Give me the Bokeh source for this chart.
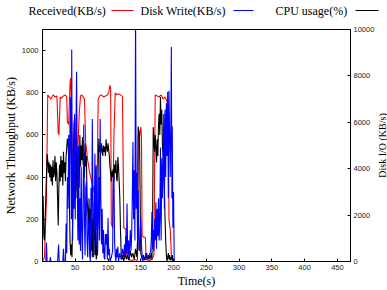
import math
from bokeh.plotting import figure
from bokeh.models import Range1d, LinearAxis, FixedTicker
from bokeh.layouts import column, row
from bokeh.core.properties import value
from bokeh.embed import file_html
from bokeh.resources import INLINE

# ---------------- data ----------------
legend_labels = ["Received(KB/s)", "Disk Write(KB/s)", "CPU usage(%)"]
legend_colors = ["#ff0000", "#0000ff", "#000000"]

x_ticks = [50, 100, 150, 200, 250, 300, 350, 400, 450]
y_ticks = [0, 200, 400, 600, 800, 1000]
disk_ticks = [0, 2000, 4000, 6000, 8000, 10000]

# Received (KB/s), left axis
recv_t = [0, 3, 6, 8, 10, 13, 16, 19, 22, 24, 25, 27, 29, 32, 35, 37, 38, 40, 42, 43,
          45, 47, 50, 53, 56, 58, 60, 62, 64, 66, 69, 72, 75, 78, 81, 83, 85, 87, 90, 93,
          96, 99, 101, 103, 104, 105, 107, 109, 111, 113, 116, 119, 121, 122, 123, 124, 126, 127,
          128, 132, 136, 140, 144, 145, 146, 148, 150, 151, 152, 155, 157, 158, 163, 167, 170,
          172, 175, 178, 181, 184, 187, 190, 192, 193, 195, 197, 200]
recv_v = [0, 20, 300, 790, 780, 770, 790, 780, 785, 610, 600, 780, 775, 785, 790, 780, 660, 650, 850, 870,
          600, 420, 300, 450, 700, 785, 790, 780, 770, 560, 480, 420, 380, 340, 300, 320, 770, 785, 790, 780,
          785, 790, 800, 835, 820, 180, 160, 600, 800, 790, 795, 790, 785, 780, 500, 160, 155, 155,
          20, 10, 5, 10, 5, 10, 600, 590, 637, 590, 120, 115, 115, 10, 5, 10, 30,
          790, 785, 780, 790, 770, 780, 760, 700, 200, 150, 10, 0]

# CPU usage, left axis
cpu_t = [0, 1, 2, 3, 5, 7, 8, 9, 10, 11, 12, 13, 14, 15, 16, 17, 18, 19, 20, 21,
         22, 23, 24, 25, 26, 27, 28, 29, 30, 31, 32, 33, 34, 35, 36, 37, 38, 39, 40, 41,
         42, 43, 44, 45, 46, 47, 48, 49, 50, 51, 52, 53, 54, 55, 56, 57, 58, 59, 60, 61,
         62, 63, 64, 65, 66, 67, 68, 69, 70, 71, 72, 73, 74, 75, 76, 77, 78, 79, 80, 81,
         82, 83, 84, 85, 86, 87, 88, 89, 90, 91, 92, 93, 94, 95, 96, 97, 98, 99, 100, 101,
         102, 103, 104, 105, 106, 107, 108, 109, 110, 111, 112, 113, 114, 115, 116, 117, 118, 119, 120, 121,
         122, 124, 126, 128, 130, 132, 134, 136, 138, 140, 142, 144, 145, 146, 147, 148, 149, 150, 152, 154,
         156, 158, 160, 162, 164, 166, 167, 168, 169, 170, 171, 172, 173, 174, 175, 176, 177, 178, 179, 180,
         181, 182, 183, 184, 185, 186, 187, 188, 189, 190, 192, 193, 194, 195, 196, 197, 198, 199, 200]
cpu_v = [300, 310, 120, 100, 300, 510, 480, 420, 470, 400, 460, 380, 450, 360, 480, 400, 420, 500, 380, 470,
         420, 300, 171, 350, 460, 380, 500, 400, 480, 360, 520, 420, 470, 380, 500, 540, 583, 560, 480, 300,
         100, 30, 80, 20, 200, 500, 650, 680, 500, 300, 600, 400, 200, 500, 350, 600, 450, 550, 480, 590,
         460, 520, 400, 560, 450, 500, 300, 250, 170, 300, 80, 250, 50, 300, 20, 200, 100, 280, 30, 150,
         10, 30, 200, 450, 583, 520, 550, 510, 560, 530, 500, 550, 520, 545, 500, 580, 540, 520, 560, 530,
         500, 450, 420, 380, 430, 400, 440, 380, 460, 420, 480, 400, 380, 495, 450, 380, 300, 150, 40, 10,
         30, 0, 40, 10, 30, 5, 50, 20, 40, 10, 60, 20, 100, 640, 620, 600, 300, 40, 10, 30,
         5, 40, 10, 30, 10, 40, 10, 200, 637, 580, 520, 600, 540, 470, 580, 500, 650, 700, 600, 780,
         650, 720, 550, 500, 400, 350, 200, 100, 30, 0, 40, 10, 30, 5, 20, 10, 30, 0, 10]

# Disk Write (KB/s), right axis
disk_t = [0, 2, 5, 6, 7, 11, 12, 13, 23, 24.5, 25.5, 31, 32, 33, 35, 36, 37, 38, 39, 40,
          41, 42, 43, 44, 44.6, 45.5, 46, 47, 48, 49, 50, 51, 52, 53, 54, 55, 56, 57, 58, 59,
          60, 61, 62, 63, 64, 65, 66, 67, 68, 69, 70, 71, 72, 73, 74, 75, 76, 77, 78, 79,
          80, 81, 82, 83, 84, 85, 86, 87, 88, 89, 90, 91, 92, 93, 94, 95, 96, 97, 98, 99,
          100, 101, 102, 103, 105, 107, 108, 109, 110, 111, 112, 113, 114, 115, 116, 118, 120, 122, 124, 125,
          126, 127, 128, 129, 130, 131, 132, 133, 134, 135, 136, 137, 138, 139, 140, 141, 142, 143, 144, 145,
          146, 147, 148, 149, 150, 151, 152, 153, 155, 157, 159, 161, 163, 165, 166, 167, 168, 169, 170, 171,
          172, 173, 174, 175, 176, 177, 178, 179, 180, 181, 182, 183, 184, 185, 186, 187, 188, 189, 190, 191,
          192, 193, 194, 195, 196, 196.6, 197.5, 198, 199, 200, 201]
disk_v = [0, 0, 0, 820, 0, 0, 180, 0, 0, 730, 0, 0, 550, 0, 0, 1640, 360, 3640, 2270, 5450,
          2730, 5910, 7090, 1820, 9140, 2730, 910, 4550, 2270, 6360, 1820, 5450, 8180, 3640, 910, 5000, 730, 2730, 450, 4090,
          1360, 90, 2730, 5910, 1820, 270, 3180, 3450, 910, 180, 1820, 1550, 270, 0, 3180, 910, 6140, 2730, 180, 1820,
          4640, 1360, 4140, 910, 270, 1820, 3640, 910, 6140, 2730, 730, 2270, 360, 1360, 180, 90, 1180, 730, 1180, 90,
          1870, 270, 550, 0, 180, 450, 3640, 3710, 910, 270, 0, 550, 180, 640, 0, 360, 90, 550, 180, 730,
          270, 1090, 360, 2500, 270, 910, 180, 730, 1360, 450, 1090, 2730, 5150, 1820, 3930, 910, 10900, 2270, 3820, 910,
          3060, 550, 450, 1360, 1850, 730, 270, 0, 180, 90, 360, 90, 270, 450, 910, 2130, 550, 1360, 450, 1820,
          910, 2550, 550, 2270, 1090, 2730, 910, 1820, 4910, 910, 4450, 2730, 4090, 6360, 2270, 6550, 3640, 6820, 4550, 7310,
          2730, 7360, 5450, 3640, 6360, 9250, 2730, 5820, 1450, 3000, 0]

# ---------------- styling ----------------
W, H = 387, 290
LEG_H = 20
STRIP_W = 10
SERIF = "Liberation Serif"
SANS = "Liberation Sans"

# legend strip (label first, then line sample, as in the original)
leg = figure(width=W, height=LEG_H, x_range=Range1d(0, W), y_range=Range1d(0, LEG_H),
             toolbar_location=None, output_backend="svg", frame_align=False,
             x_axis_location=None, y_axis_location=None, min_border=0)
leg.grid.visible = False
leg.outline_line_color = None
leg_text_x = [28, 140, 275]
leg_line_x0 = [111, 233, 355]
leg_line_x1 = [133, 253, 378]
leg_y = 10
leg.text(x=leg_text_x, y=[leg_y] * 3, text=legend_labels, text_font=value(SERIF),
         text_font_size="12px", text_baseline="middle", text_align="left", text_color="#000000")
for i in range(3):
    leg.quad(left=[leg_line_x0[i]], right=[leg_line_x1[i]], bottom=[leg_y - 0.6], top=[leg_y + 0.6],
             fill_color=legend_colors[i], line_color=None)

# main plot
MAIN_W = W - STRIP_W
MAIN_H = H - LEG_H
p = figure(width=MAIN_W, height=MAIN_H, x_range=Range1d(0, 470), y_range=Range1d(0, 1100),
           toolbar_location=None, output_backend="svg", frame_align=False,
           min_border_left=41, min_border_right=24, min_border_top=9, min_border_bottom=29)
p.grid.visible = False
p.outline_line_color = "#000000"
p.background_fill_color = "white"
p.extra_y_ranges = {"disk": Range1d(0, 10000)}

p.xaxis.ticker = FixedTicker(ticks=x_ticks)
p.yaxis.ticker = FixedTicker(ticks=y_ticks)
p.xaxis.axis_label = "Time(s)"
p.yaxis.axis_label = "Network Throughput (KB/s)"

right = LinearAxis(y_range_name="disk", ticker=FixedTicker(ticks=disk_ticks))
p.add_layout(right, "right")

for ax in p.axis:
    ax.axis_line_color = "#000000"
    ax.major_tick_in = 3
    ax.major_tick_out = 0
    ax.major_tick_line_color = "#000000"
    ax.minor_tick_line_color = None
    ax.major_label_text_font = SANS
    ax.major_label_text_font_size = "7.5px"
    ax.major_label_text_color = "#222222"
    ax.major_label_standoff = 3
    ax.axis_label_text_font = SERIF
    ax.axis_label_text_font_size = "12px"
    ax.axis_label_text_font_style = "normal"
    ax.axis_label_text_color = "#000000"
    ax.axis_label_standoff = 1
p.yaxis[0].major_label_standoff = 4
right.major_label_standoff = 3

p.line(recv_t, recv_v, line_color="#ff0000", line_width=1.1)
p.line(cpu_t, cpu_v, line_color="#000000", line_width=1.1)
p.line(disk_t, disk_v, y_range_name="disk", line_color="#0000ff", line_width=1.1)

# right-hand axis title in its own narrow strip
rs = figure(width=STRIP_W, height=MAIN_H, x_range=Range1d(0, STRIP_W), y_range=Range1d(0, MAIN_H),
            toolbar_location=None, output_backend="svg", frame_align=False,
            x_axis_location=None, y_axis_location=None, min_border=0)
rs.grid.visible = False
rs.outline_line_color = None
rs.text(x=[STRIP_W / 2], y=[MAIN_H - 125], text=["Disk I/O (KB/s)"], angle=math.pi / 2,
        text_font=value(SERIF), text_font_size="10px", text_align="center",
        text_baseline="middle", text_color="#000000")

layout = column(leg, row(p, rs, spacing=0), spacing=0)
open("out.html", "w").write(file_html(layout, INLINE))
